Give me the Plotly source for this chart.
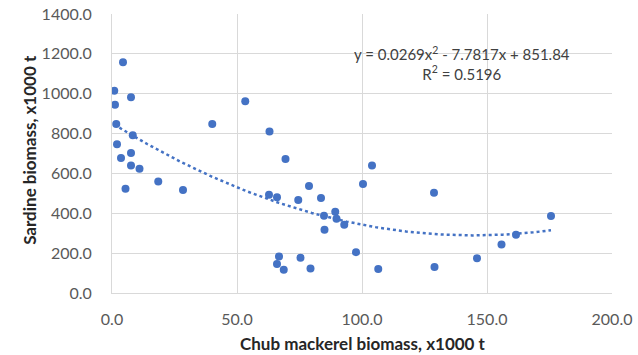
import numpy as np
import plotly.graph_objects as go

mackerel = [4.4, 0.9, 7.6, 1.2, 53.3, 1.7, 40.1, 63.0, 8.3, 2.0, 3.6, 7.6, 7.6, 11.0,
            5.4, 18.5, 28.4, 62.8, 66.0, 66.8, 66.0, 69.4, 104.0, 78.8, 74.5, 83.6,
            100.4, 128.8, 84.8, 89.3, 89.8, 92.9, 85.0, 68.7, 75.4, 79.4, 97.6, 106.5,
            129.0, 146.0, 155.8, 161.6, 175.6]
sardine = [1158, 1015, 982, 945, 962, 848, 848, 810, 792, 747, 678, 702, 640, 623,
           523, 560, 517, 493, 480, 183, 145, 673, 640, 537, 467, 477,
           547, 503, 388, 408, 372, 343, 318, 117, 177, 123, 205, 120,
           130, 175, 243, 292, 387]
coef = [0.0269, -7.7817, 851.84]
x_ticks = [0, 50, 100, 150, 200]
y_ticks = [0, 200, 400, 600, 800, 1000, 1200, 1400]

blue = "#4472C4"
grid = "#d9d9d9"
font = "Lato"

xt = np.linspace(min(mackerel), max(mackerel), 200)
yt = coef[0] * xt**2 + coef[1] * xt + coef[2]

fig = go.Figure()
fig.add_trace(go.Scatter(x=xt, y=yt, mode="lines",
                         line=dict(color=blue, width=2.5, dash="dot"),
                         hoverinfo="skip", showlegend=False))
fig.add_trace(go.Scatter(x=mackerel, y=sardine, mode="markers",
                         marker=dict(color=blue, size=8),
                         showlegend=False))

fig.add_annotation(x=0.70, y=0.822, xref="paper", yref="paper",
                   xanchor="center", yanchor="middle",
                   text="y = 0.0269x<sup>2</sup> - 7.7817x + 851.84<br>R<sup>2</sup> = 0.5196",
                   showarrow=False, align="center",
                   font=dict(family=font, size=15, color="#404040"))
fig.add_annotation(x=0.501, y=-0.18, xref="paper", yref="paper",
                   xanchor="center", yanchor="middle",
                   text="<b>Chub mackerel biomass, x1000 t</b>", showarrow=False,
                   font=dict(family=font, size=17, color="#262626"))
fig.add_annotation(x=-0.164, y=0.513, xref="paper", yref="paper",
                   xanchor="center", yanchor="middle", textangle=-90,
                   text="<b>Sardine biomass, x1000 t</b>", showarrow=False,
                   font=dict(family=font, size=17, color="#262626"))

fig.update_layout(
    width=638, height=355,
    margin=dict(l=112, r=26, t=14, b=62),
    paper_bgcolor="white", plot_bgcolor="white",
    font=dict(family=font, size=16, color="#595959"),
)
fig.update_xaxes(range=[0, 200], tickvals=x_ticks,
                 ticktext=[f"{v:.1f}" for v in x_ticks],
                 showgrid=True, gridcolor=grid, gridwidth=1,
                 zeroline=False, showline=True, linecolor=grid, mirror=False,
                 ticks="", ticklabelstandoff=12, automargin=False)
fig.update_yaxes(range=[0, 1400], tickvals=y_ticks,
                 ticktext=[f"{v:.1f}" for v in y_ticks],
                 showgrid=True, gridcolor=grid, gridwidth=1,
                 zeroline=False, showline=True, linecolor=grid,
                 ticks="", ticklabelstandoff=16, automargin=False)

fig.write_html("out.html")
